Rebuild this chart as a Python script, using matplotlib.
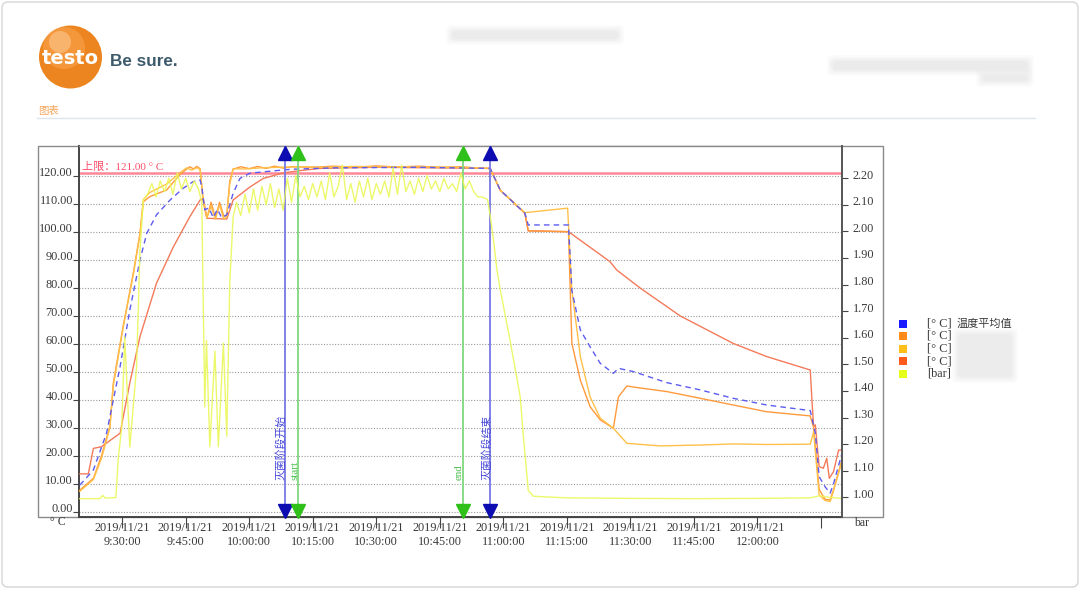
import matplotlib.pyplot as plt
import numpy as np
from matplotlib.patches import Circle, Rectangle, FancyBboxPatch
from matplotlib.transforms import blended_transform_factory

# time axis: minutes after 09:00 on 2019/11/21

# blue dashed: average temperature [°C]
t_avg = [20.0, 23.2, 26.3, 27.1, 29.5, 31.8, 34.2, 35.8, 38.1, 41.3, 44.4, 46.8, 48.4,
         48.8, 49.5, 50.5, 51.5, 52.5, 53.5, 54.7, 56.2, 57.8, 60.2, 65.6, 70, 80, 100,
         116.9, 119.3, 125.1, 125.9, 135.4, 136.2, 138.2, 140.5, 142.9, 146.0, 147.2,
         150.8, 158.6, 166.5, 174.3, 182.2, 192.5, 193.7, 194.6, 196.0, 197.2, 198.0, 200.0]
avg_temp = [9.5, 14.9, 28.0, 33.9, 51.8, 72.0, 89.9, 99.4, 106.0, 111.3, 115.5, 117.9, 118.5,
            116.0, 107.8, 108.5, 105.0, 108.0, 105.0, 106.0, 113.7, 119.0, 120.9, 121.7, 122.3, 122.8, 123.0,
            122.6, 114.8, 106.6, 102.4, 102.4, 79.0, 64.9, 58.9, 53.0, 49.4, 51.2,
            50.0, 46.1, 43.5, 40.5, 38.1, 36.1, 28.0, 12.5, 8.9, 6.6, 10.0, 20.8]

# orange probe [°C]
t_probe1 = [20.0, 23.2, 25.1, 27.1, 27.9, 30.2, 32.6, 34.2, 35.0, 36.5, 40.5, 43.6, 45.2, 46.0,
            46.8, 47.6, 48.4, 49.1, 50.0, 51.0, 52.0, 53.0, 54.0, 54.7, 55.4, 56.2, 58, 60, 62,
            64, 66, 68, 70, 75, 80, 85, 90, 95, 100, 105, 110, 114, 116.9, 119.3, 125.1, 125.9,
            135.4, 136.2, 138.2, 140.5, 142.9, 146.0, 147.2, 149.2, 150.8, 158.6, 166.5, 174.3,
            182.2, 192.5, 193.3, 194.6, 196.0, 197.2, 198.0, 200.0]
probe1 = [7.7, 11.9, 19.9, 30.4, 45.8, 66.0, 85.0, 99.4, 110.7, 112.5, 114.9, 120.3, 122.3, 123.2,
          122.4, 123.3, 122.5, 111.0, 104.8, 110.5, 105.0, 110.5, 105.5, 106.0, 118.0, 122.3, 123.2, 122.5, 123.3,
          122.6, 123.4, 122.7, 123.2, 123.0, 123.4, 123.0, 123.5, 123.1, 123.4, 123.0, 123.2, 122.7, 122.6, 114.8, 106.6, 100.3,
          100.0, 60.1, 47.0, 37.5, 32.8, 29.8, 41.0, 44.9, 44.5, 42.9, 40.5, 38.1,
          35.7, 34.2, 30.0, 8.0, 4.4, 4.2, 7.8, 18.5]

# amber probe [°C]
t_probe2 = [20.0, 23.2, 25.1, 27.1, 27.9, 30.2, 32.6, 34.2, 35.0, 36.5, 40.5, 43.6, 45.2, 46.4,
            47.6, 48.4, 49.1, 50.0, 51.0, 52.0, 53.0, 54.0, 54.7, 55.4, 56.2, 59, 63, 67, 72, 78,
            85, 92, 100, 108, 114, 116.9, 119.3, 125.1, 135.2, 136.2, 138.2, 140.5, 142.9, 146.0,
            149.2, 157.0, 166.5, 174.3, 182.2, 192.5, 193.3, 194.6, 196.0, 197.2, 198.0, 200.0]
probe2 = [7.3, 11.5, 19.0, 30.0, 45.0, 65.5, 84.5, 99.0, 111.5, 114.0, 117.0, 121.0, 122.8, 122.0,
          122.8, 122.3, 112.0, 105.0, 109.0, 104.5, 109.5, 104.5, 105.5, 117.0, 122.5, 122.4, 122.8, 123.0, 123.2, 123.0,
          123.3, 123.1, 123.2, 123.0, 122.8, 122.5, 114.8, 106.8, 108.4, 79.2, 55.4, 41.0, 33.4, 29.8,
          24.4, 23.5, 23.8, 24.2, 24.0, 24.1, 28.5, 6.0, 4.0, 3.6, 7.5, 18.0]

# red-orange (slow) probe [°C]
t_probe3 = [20.0, 22.0, 23.2, 25.1, 29.5, 31.8, 34.2, 38.1, 42.1, 46.0, 48.4, 49.1, 50.0, 54.7,
            56.2, 60.2, 63.3, 68.0, 72.0, 76.7, 90, 116.9, 119.3, 125.1, 125.9, 135.4, 145.2, 146.8,
            152.4, 161.8, 174.3, 182.2, 192.5, 192.9, 193.3, 193.7, 194.6, 195.6, 196.4, 197.0,
            198.0, 199.2, 200.0]
probe3 = [13.5, 13.5, 22.6, 23.2, 28.0, 46.0, 62.5, 81.6, 94.6, 105.4, 111.3, 112.0, 104.8, 104.5,
          111.3, 116.0, 119.0, 121.0, 121.8, 122.6, 123.0, 122.6, 114.8, 106.6, 100.3, 100.0, 89.3, 86.3,
          79.8, 69.9, 60.1, 55.4, 50.6, 39.9, 30.4, 31.0, 16.1, 15.5, 19.1, 11.9,
          14.3, 22.0, 22.0]

# yellow: chamber pressure [bar]
t_press = ([20.0, 24.7, 25.4, 26.0, 28.5, 29.1, 29.9, 30.6, 31.8, 33.4, 34.2, 35.0]
           + [36, 37, 38, 39, 40, 41, 42, 43, 44, 45, 46, 47, 48]
           + [48.8, 49.5, 49.9, 50.7, 51.9, 52.7, 53.9, 54.7, 55.4, 56.2]
           + list(range(57, 116))
           + [116.3, 116.9, 117.7, 118.5, 119.3, 121.6, 124.0, 124.7, 125.9, 127.1,
              135, 150, 165, 180, 192.5, 194.8, 197, 200])
press = ([0.995, 0.995, 1.007, 0.997, 0.999, 1.152, 1.265, 1.604, 1.189, 1.491, 1.93, 2.118]
         + [2.14, 2.18, 2.13, 2.19, 2.15, 2.20, 2.14, 2.22, 2.16, 2.20, 2.15, 2.19, 2.16]
         + [2.11, 1.34, 1.59, 1.19, 1.55, 1.19, 1.58, 1.23, 1.806, 2.056]
         + [2.11, 2.06, 2.14, 2.07, 2.16, 2.08, 2.17, 2.10, 2.18, 2.09,
            2.16, 2.08, 2.20, 2.11, 2.21, 2.13, 2.17, 2.12, 2.18, 2.13,
            2.19, 2.12, 2.22, 2.13, 2.17, 2.25, 2.12, 2.18, 2.11, 2.19,
            2.13, 2.20, 2.12, 2.18, 2.14, 2.19, 2.13, 2.24, 2.14, 2.25,
            2.15, 2.19, 2.14, 2.20, 2.15, 2.21, 2.16, 2.19, 2.15, 2.20,
            2.16, 2.18, 2.15, 2.22, 2.16, 2.19, 2.15, 2.13, 2.13]
         + [2.12, 2.06, 1.968, 1.855, 1.78, 1.591, 1.378, 1.24, 1.026, 1.004,
            0.998, 0.996, 0.995, 0.996, 0.998, 1.006, 1.0, 0.996])

upper_limit = 121.0
phase_marks = [(68.4, "灭菌阶段开始", "#0c0cb0", "#7878e6"),
               (71.6, "start", "#2fc11a", "#7fd87f"),
               (110.4, "end", "#2fc11a", "#7fd87f"),
               (116.9, "灭菌阶段结束", "#0c0cb0", "#7878e6")]

xtick_pos = [30, 45, 60, 75, 90, 105, 120, 135, 150, 165, 180]
xtick_time = ["9:30:00", "9:45:00", "10:00:00", "10:15:00", "10:30:00", "10:45:00",
              "11:00:00", "11:15:00", "11:30:00", "11:45:00", "12:00:00"]
left_ticks = [0, 10, 20, 30, 40, 50, 60, 70, 80, 90, 100, 110, 120]
right_ticks = [1.0, 1.1, 1.2, 1.3, 1.4, 1.5, 1.6, 1.7, 1.8, 1.9, 2.0, 2.1, 2.2]

legend_colors = ["#1a1aff", "#ff8c1a", "#ffbf1a", "#ff5a1a", "#e6ff1a"]
legend_units = ["[° C]", "[° C]", "[° C]", "[° C]", "[bar]"]

plt.rcParams['font.family'] = ['Liberation Serif', 'Noto Sans CJK SC', 'DejaVu Sans']
TXT = "#3a3a3a"
CJK = ['Noto Sans CJK SC', 'DejaVu Sans']

W, H = 1080, 589
fig = plt.figure(figsize=(W / 100, H / 100), dpi=100)

# ── page background (pixel coords) ─────────────
bg = fig.add_axes([0, 0, 1, 1])
bg.set_xlim(0, W)
bg.set_ylim(H, 0)
bg.axis("off")

bg.add_patch(FancyBboxPatch((2, 2), W - 4, H - 4, boxstyle="round,pad=0,rounding_size=6",
                            fc="white", ec="#d6d6d6", lw=1))

def smudge(x0, y0, x1, y1, col="#e4e4e4"):
    for pad, a in [(5, 0.12), (3, 0.2), (1, 0.3), (-1, 0.4)]:
        bg.add_patch(FancyBboxPatch((x0 + 4 - pad, y0 + 3 - pad), x1 - x0 - 8 + 2 * pad,
                                    y1 - y0 - 6 + 2 * pad,
                                    boxstyle="round,pad=0,rounding_size=5",
                                    fc=col, ec="none", alpha=a))

# logo
bg.add_patch(Circle((70.5, 57), 31.5, fc="#ec8520", ec="none"))
bg.add_patch(Circle((64, 48), 21, fc="#ffae5c", ec="none", alpha=0.45))
bg.add_patch(Circle((60, 42), 11, fc="#ffd9a8", ec="none", alpha=0.45))
bg.text(70, 58, "testo", color="white", fontsize=14, fontweight="bold",
        family="DejaVu Sans", ha="center", va="center")
bg.text(110, 61, "Be sure.", color="#3d5a6c", fontsize=12.3, fontweight="bold",
        family="Liberation Sans", ha="left", va="center")

smudge(447, 27, 623, 43)
smudge(828, 57, 1033, 74)
smudge(977, 71, 1033, 85)

bg.text(38, 111, "图表", color="#f5a55a", fontsize=7.5, family=CJK, ha="left", va="center")
bg.plot([37, 1035], [117.5, 117.5], color="#dfe5ec", lw=1)

# chart frame
bg.add_patch(Rectangle((38, 146), 883 - 38, 517 - 146, fc="white", ec="#8a8a8a", lw=1))
bg.text(58, 522, "° C", color=TXT, fontsize=8.5, ha="center", va="center")
bg.text(862, 523, "bar", color=TXT, fontsize=8.5, ha="center", va="center")

# legend
for i, (c, u) in enumerate(zip(legend_colors, legend_units)):
    y = 323.5 + i * 12.5
    bg.add_patch(Rectangle((898.5, y - 4), 8.5, 8, fc=c, ec="none"))
    bg.text(927, y, u, color=TXT, fontsize=8.8, ha="left", va="center")
bg.text(957, 323.5, "温度平均值", color=TXT, fontsize=8, family=CJK, ha="left", va="center")
smudge(953, 330, 1017, 381, col="#e6e6e6")

# ── plot area ─────────────────────────────────
L, R, T, B = 79, 842, 146, 517
ax = fig.add_axes([L / W, 1 - B / H, (R - L) / W, (B - T) / H])
ax2 = ax.twinx()
ax2.patch.set_visible(False)

ax.set_xlim(19.8, 200)
ax.set_ylim(-1.9, 130.6)
ax2.set_ylim(0.926, 2.3215)

ax.set_yticks(left_ticks)
ax.yaxis.grid(True, color="#9a9a9a", ls=(0, (1, 1.5)), lw=0.8)
ax.tick_params(axis="y", direction="out", length=4.5, width=0.8, color="#444", labelleft=False)
ax.set_xticks(xtick_pos + [195])
ax.tick_params(axis="x", direction="out", length=8, width=0.8, color="#444", labelbottom=False)
ax2.set_yticks(right_ticks)
ax2.tick_params(axis="y", direction="out", length=4, width=0.8, color="#444", labelright=False)

ax.spines["right"].set_visible(False)
for s in ["left", "top", "bottom"]:
    ax2.spines[s].set_visible(False)
ax.spines["left"].set(color="#444", lw=1.4)
ax.spines["bottom"].set(color="#444", lw=1.4)
ax.spines["top"].set(color="#8a8a8a", lw=1)
ax2.spines["right"].set(color="#555", lw=1.4)

# tick labels drawn by hand to sit like the original
tl = blended_transform_factory(ax.transAxes, ax.transData)
for v in left_ticks:
    ax.text(-0.008, v + 0.8, f"{v:.2f}", transform=tl, ha="right", va="center",
            fontsize=8.8, color=TXT)
tr = blended_transform_factory(ax2.transAxes, ax2.transData)
for v in right_ticks:
    ax2.text(1.0144, v + 0.0102, f"{v:.2f}", transform=tr, ha="left", va="center",
             fontsize=8.8, color=TXT)
tx = blended_transform_factory(ax.transData, ax.transAxes)
for p, lab in zip(xtick_pos, xtick_time):
    ax.text(p, -0.0125, "2019/11/21\n" + lab, transform=tx, ha="center", va="top",
            fontsize=8.8, color=TXT, linespacing=1.22)

# data
ax.axhline(upper_limit, color="#ff8898", lw=1.8, zorder=2)
ax.text(20.5, 121.9, "上限：121.00 ° C", color="#ff4d6a", fontsize=8, va="baseline", ha="left")

ax.plot(t_probe3, probe3, color="#f47a5a", lw=1.0, zorder=3)
ax.plot(t_probe1, probe1, color="#ff9a3c", lw=1.0, zorder=3)
ax.plot(t_probe2, probe2, color="#ffc04a", lw=1.0, zorder=3)
ax.plot(t_avg, avg_temp, color="#5c5cf0", lw=1.0, ls=(0, (4, 3)), zorder=3)
ax2.plot(t_press, press, color="#eaf85a", lw=1.0, alpha=0.9)

for t, lab, mcol, lcol in phase_marks:
    ax.axvline(t, color=lcol, lw=1.3, zorder=4)
    ax.plot([t], [0.981], marker="^", ms=10, color=mcol, transform=tx, clip_on=False, zorder=5)
    ax.plot([t], [0.0175], marker="v", ms=10, color=mcol, transform=tx, clip_on=False, zorder=5)
    tcol = "#4848d8" if mcol == "#0c0cb0" else "#4cc04c"
    ax.annotate(lab, xy=(t, 0.0997), xycoords=tx, xytext=(-2.5, 0), textcoords="offset points",
                rotation=90, ha="center", va="bottom", color=tcol, fontsize=7.8, zorder=5)

ax.set_xlim(19.8, 200)
ax.set_ylim(-1.9, 130.6)

fig.savefig("out.png", dpi=100)
